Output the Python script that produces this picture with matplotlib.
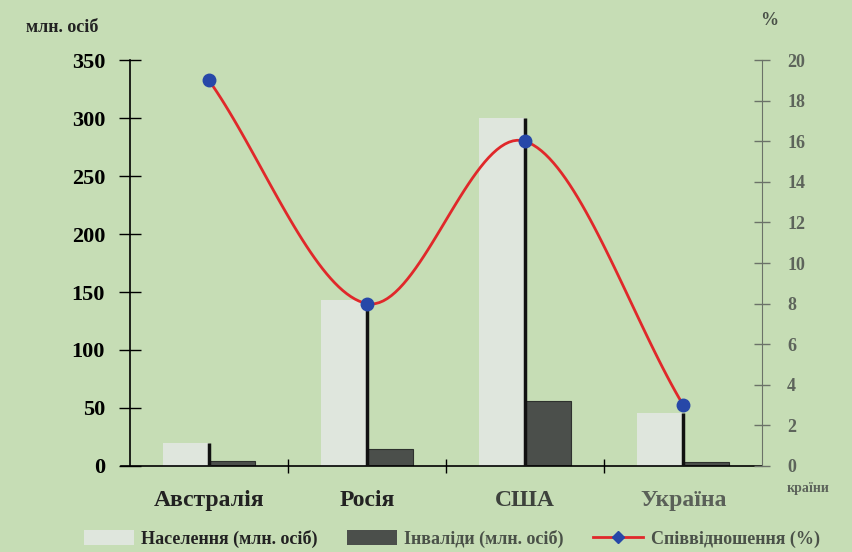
import numpy as np
import matplotlib.pyplot as plt
from matplotlib.lines import Line2D
from matplotlib.patches import Patch

# дані
countries = ['Австралія', 'Росія', 'США', 'Україна']
population = [20, 143, 300, 46]      # млн. осіб
disabled = [4, 15, 56, 3]            # млн. осіб
ratio = [19, 8, 16, 3]               # %

bg = '#c6ddb5'
light = '#dfe6dd'
dark = '#4b4f4b'

plt.rcParams['font.family'] = ['Liberation Serif', 'DejaVu Serif']
plt.rcParams['font.weight'] = 'bold'

fig = plt.figure(figsize=(8.52, 5.52), dpi=100, facecolor=bg)
ax = fig.add_axes([0.1526, 0.156, 0.742, 0.735])
ax.set_facecolor(bg)

x = np.arange(len(countries))
w = 0.29
ax.bar(x - w / 2, population, w, color=light, edgecolor='none', zorder=2)
ax.bar(x + w / 2, disabled, w, color=dark, edgecolor='#2e312e', linewidth=0.8, zorder=2)
# темна тінь правого краю стовпчиків населення
ax.vlines(x, 0, population, color='#111111', linewidth=2.5, zorder=3)

ax.set_xlim(-0.5, 3.5)
ax.set_ylim(0, 350)
ax.set_yticks(range(0, 351, 50))
ax.set_xticks([0.5, 1.5, 2.5])
ax.set_xticklabels([])
ax.tick_params(axis='x', direction='inout', length=10, width=1)
ax.tick_params(axis='y', direction='inout', length=16, width=1, labelsize=16, pad=10)
for s in ['top', 'right']:
    ax.spines[s].set_visible(False)
ax.spines['left'].set_linewidth(1.2)
ax.spines['bottom'].set_linewidth(1.2)
ax.spines['bottom'].set_bounds(-0.56, 3.5)
label_colors = ['#222222', '#222222', '#3d423c', '#5a6058']
for i, c in enumerate(countries):
    ax.text(x[i], -30, c, ha='center', va='center', fontsize=17, color=label_colors[i])

# права вісь, %
ax2 = ax.twinx()
ax2.set_ylim(0, 20)
ax2.set_yticks(range(0, 21, 2))
ax2.tick_params(axis='y', direction='inout', length=12, width=1, labelsize=13,
                labelcolor='#5d645b', color='#6b7268', pad=12)
for s in ['top', 'left', 'bottom']:
    ax2.spines[s].set_visible(False)
ax2.spines['right'].set_color('#6b7268')
ax2.spines['right'].set_linestyle((0, (4, 1)))

# згладжена лінія співвідношення (Catmull-Rom)
p = np.column_stack([x, ratio]).astype(float)
pts = np.vstack([2 * p[0] - p[1], p, 2 * p[-1] - p[-2]])
t = np.linspace(0, 1, 40)
cx, cy = [], []
for i in range(1, len(pts) - 2):
    p0, p1, p2, p3 = pts[i - 1], pts[i], pts[i + 1], pts[i + 2]
    seg = 0.5 * ((2 * p1)[None, :] + (-p0 + p2)[None, :] * t[:, None]
                 + (2 * p0 - 5 * p1 + 4 * p2 - p3)[None, :] * t[:, None] ** 2
                 + (-p0 + 3 * p1 - 3 * p2 + p3)[None, :] * t[:, None] ** 3)
    cx.extend(seg[:, 0])
    cy.extend(seg[:, 1])
ax2.plot(cx, cy, color='#e0282a', linewidth=2, zorder=4)
ax2.plot(x, ratio, 'o', color='#2748a8', markersize=9, zorder=5)

fig.text(0.03, 0.942, 'млн. осіб', fontsize=13, color='#222222', ha='left')
fig.text(0.903, 0.955, '%', fontsize=13, color='#4a5148', ha='center')
fig.text(0.948, 0.108, 'країни', fontsize=10, color='#5d645b', ha='center')

handles = [Patch(facecolor=light, edgecolor='none'),
           Patch(facecolor=dark, edgecolor='none'),
           Line2D([0], [0], color='#e0282a', linewidth=2, marker='D', markersize=6,
                  markerfacecolor='#2748a8', markeredgecolor='#2748a8')]
labels = ['Населення (млн. осіб)', 'Інваліди (млн. осіб)', 'Співвідношення (%)']
leg = fig.legend(handles, labels, loc='center', bbox_to_anchor=(0.53, 0.024), ncol=3,
                 frameon=False, fontsize=13, handlelength=2.8, handleheight=0.9,
                 columnspacing=1.6, handletextpad=0.4)
for i, txt in enumerate(leg.get_texts()):
    txt.set_color('#222222' if i == 0 else '#4a5148')

fig.savefig('out.png', dpi=100, facecolor=bg)
